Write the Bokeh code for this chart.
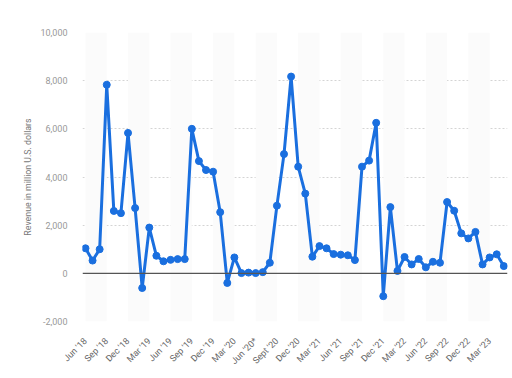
from bokeh.plotting import figure
from bokeh.models import FixedTicker, NumeralTickFormatter, Span, ColumnDataSource
from bokeh.embed import file_html
from bokeh.resources import INLINE
import math

months = ["Jun '18", "Jul '18", "Aug '18", "Sep '18", "Oct '18", "Nov '18", "Dec '18",
          "Jan '19", "Feb '19", "Mar '19", "Apr '19", "May '19", "Jun '19", "Jul '19",
          "Aug '19", "Sep '19", "Oct '19", "Nov '19", "Dec '19", "Jan '20", "Feb '20",
          "Mar '20", "Apr '20", "May '20", "Jun '20", "Jul '20", "Aug '20", "Sep '20",
          "Oct '20", "Nov '20", "Dec '20", "Jan '21", "Feb '21", "Mar '21", "Apr '21",
          "May '21", "Jun '21", "Jul '21", "Aug '21", "Sep '21", "Oct '21", "Nov '21",
          "Dec '21", "Jan '22", "Feb '22", "Mar '22", "Apr '22", "May '22", "Jun '22",
          "Jul '22", "Aug '22", "Sep '22", "Oct '22", "Nov '22", "Dec '22", "Jan '23",
          "Feb '23", "Mar '23", "Apr '23", "May '23"]

revenue = [1040, 530, 1000, 7830, 2590, 2500, 5830, 2710, -610, 1900,
           730, 500, 560, 590, 590, 6000, 4660, 4290, 4220, 2540,
           -400, 660, 10, 30, 10, 50, 440, 2810, 4950, 8170,
           4430, 3310, 690, 1130, 1040, 800, 775, 750, 550, 4430,
           4680, 6250, -950, 2750, 100, 680, 370, 595, 250, 480,
           440, 2960, 2600, 1660, 1450, 1720, 370, 660, 790, 300]

tick_labels = ["Jun '18", "Sep '18", "Dec '18", "Mar '19", "Jun '19", "Sep '19",
               "Dec '19", "Mar '20", "Jun '20*", "Sept '20", "Dec '20", "Mar '21",
               "Jun '21", "Sep '21", "Dec '21", "Mar '22", "Jun '22", "Sep '22",
               "Dec '22", "Mar '23"]
y_ticks = [-2000, 0, 2000, 4000, 6000, 8000, 10000]

FONT = "Roboto"
BLUE = "#1a6fdf"

x = list(range(len(revenue)))
tick_pos = [i * 3 for i in range(len(tick_labels))]

p = figure(width=512, height=378, output_backend="svg", toolbar_location=None,
           x_range=(-0.42, 59.52), y_range=(-2000, 10000),
           min_border_left=82, min_border_right=5, min_border_top=32,
           min_border_bottom=57)
p.outline_line_color = None
p.background_fill_color = "white"
p.border_fill_color = "white"

# alternating bands
band_left = tick_pos[0::2]
band_right = [b + 3 for b in band_left]
p.quad(left=band_left, right=band_right, bottom=-2000, top=10000,
       fill_color="#fbfbfb", line_color=None)

p.xgrid.grid_line_color = None
p.ygrid.grid_line_color = "#d4d4d4"
p.ygrid.grid_line_dash = "2 2"
p.ygrid.grid_line_width = 1
p.ygrid.ticker = FixedTicker(ticks=[t for t in y_ticks if t != 0])

zero = Span(location=0, dimension="width", line_color="#555555", line_width=1.2)
p.add_layout(zero)

src = ColumnDataSource(dict(x=x, y=revenue, m=months))
p.line("x", "y", source=src, line_color=BLUE, line_width=3)
p.scatter("x", "y", source=src, size=7, fill_color=BLUE, line_color=BLUE)

p.xaxis.ticker = FixedTicker(ticks=tick_pos)
p.xaxis.major_label_overrides = {pos: lab for pos, lab in zip(tick_pos, tick_labels)}
p.xaxis.major_label_orientation = math.pi / 4
p.xaxis.axis_line_color = None
p.xaxis.major_tick_line_color = None
p.xaxis.minor_tick_line_color = None
p.xaxis.major_label_text_font = FONT
p.xaxis.major_label_text_font_size = "9px"
p.xaxis.major_label_text_color = "#666666"
p.xaxis.major_label_standoff = 12

p.yaxis.ticker = FixedTicker(ticks=y_ticks)
p.yaxis.formatter = NumeralTickFormatter(format="0,0")
p.yaxis.axis_line_color = None
p.yaxis.major_tick_line_color = None
p.yaxis.minor_tick_line_color = None
p.yaxis.major_label_text_font = FONT
p.yaxis.major_label_text_font_size = "9px"
p.yaxis.major_label_text_color = "#999999"
p.yaxis.major_label_standoff = 9
p.yaxis.axis_label = "Revenue in million U.S. dollars"
p.yaxis.axis_label_text_font = FONT
p.yaxis.axis_label_text_font_size = "8.8px"
p.yaxis.axis_label_text_font_style = "normal"
p.yaxis.axis_label_text_color = "#777777"
p.yaxis.axis_label_standoff = 4

open("out.html", "w").write(file_html(p, INLINE))
